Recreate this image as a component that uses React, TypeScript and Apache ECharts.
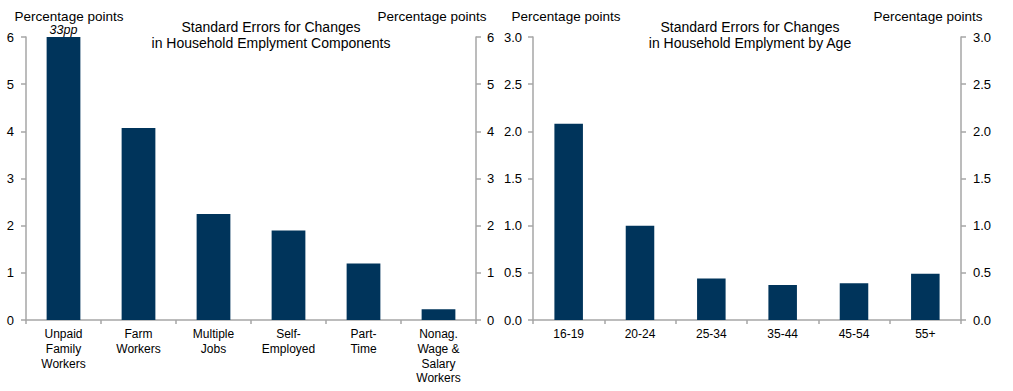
import React, { useEffect, useRef } from "react";
import * as echarts from "echarts";

const componentCategories = ["Unpaid\nFamily\nWorkers", "Farm\nWorkers", "Multiple\nJobs", "Self-\nEmployed", "Part-\nTime", "Nonag.\nWage &\nSalary\nWorkers"];
const componentValues = [33, 4.07, 2.25, 1.9, 1.2, 0.23];
const ageCategories = ["16-19", "20-24", "25-34", "35-44", "45-54", "55+"];
const ageValues = [2.08, 1.0, 0.44, 0.37, 0.39, 0.49];
const leftTitle = "Standard Errors for Changes\nin Household Emplyment Components";
const rightTitle = "Standard Errors for Changes\nin Household Emplyment by Age";
const unitLabel = "Percentage points";
const leftMax = 6;
const rightMax = 3;

const FONT = "Liberation Sans, Arial, sans-serif";
const BAR = "#00345B";
const AXIS = "#a6a6a6";

export default function App() {
  const ref = useRef<HTMLDivElement>(null);
  useEffect(() => {
    if (!ref.current) return;
    const chart = echarts.init(ref.current, undefined, { renderer: "svg" });
    const yBase = (gridIndex: number, max: number, interval: number, pos: "left" | "right", margin: number, decimals: number) => ({
      type: "value",
      gridIndex,
      position: pos,
      min: 0,
      max,
      interval,
      splitLine: { show: false },
      axisLine: { show: true, lineStyle: { color: AXIS, width: 1.5 } },
      axisTick: { show: true, length: 5, lineStyle: { color: AXIS, width: 1.5 } },
      axisLabel: {
        color: "#000",
        fontFamily: FONT,
        fontSize: 13,
        margin,
        formatter: (v: number) => v.toFixed(decimals),
      },
    });
    const xBase = (gridIndex: number, data: string[]) => ({
      type: "category",
      gridIndex,
      data,
      axisLine: { show: true, lineStyle: { color: AXIS, width: 1.5 } },
      axisTick: { show: true, length: 4, lineStyle: { color: AXIS, width: 1.5 } },
      axisLabel: {
        interval: 0,
        color: "#000",
        fontFamily: FONT,
        fontSize: 12,
        lineHeight: 14.7,
        margin: 7,
      },
    });
    const textEl = (x: number, y: number, text: string, size: number) => ({
      type: "text",
      x,
      y,
      style: {
        text,
        fill: "#000",
        font: `${size}px ${FONT}`,
        align: "center",
        verticalAlign: "middle",
        lineHeight: 16,
      },
    });
    chart.setOption({
      animation: false,
      backgroundColor: "#fff",
      grid: [
        { left: 26, right: 537, top: 37, bottom: 71 },
        { left: 533, right: 52, top: 37, bottom: 71 },
      ],
      xAxis: [xBase(0, componentCategories), xBase(1, ageCategories)],
      yAxis: [
        yBase(0, leftMax, 1, "left", 12, 0),
        yBase(0, leftMax, 1, "right", 11, 0),
        yBase(1, rightMax, 0.5, "left", 11, 1),
        yBase(1, rightMax, 0.5, "right", 12, 1),
      ],
      series: [
        {
          type: "bar",
          xAxisIndex: 0,
          yAxisIndex: 0,
          data: componentValues,
          barWidth: "45%",
          clip: true,
          itemStyle: { color: BAR },
          markPoint: {
            symbol: "circle",
            symbolSize: 0,
            label: {
              show: true,
              position: "top",
              distance: 1,
              formatter: () => `${componentValues[0]}pp`,
              fontStyle: "italic",
              fontFamily: FONT,
              fontSize: 12.5,
              color: "#000",
            },
            data: [{ coord: [0, leftMax] }],
          },
        },
        {
          type: "bar",
          xAxisIndex: 1,
          yAxisIndex: 2,
          data: ageValues,
          barWidth: "40%",
          itemStyle: { color: BAR },
        },
      ],
      graphic: [
        textEl(69, 16, unitLabel, 13.5),
        textEl(432, 16, unitLabel, 13.5),
        textEl(566, 16, unitLabel, 13.5),
        textEl(928, 16, unitLabel, 13.5),
        textEl(271, 35, leftTitle, 14),
        textEl(750, 35, rightTitle, 14),
      ],
    });
    return () => chart.dispose();
  }, []);
  return <div ref={ref} style={{ position: "fixed", left: 0, top: 0, width: 1013, height: 391 }} />;
}
